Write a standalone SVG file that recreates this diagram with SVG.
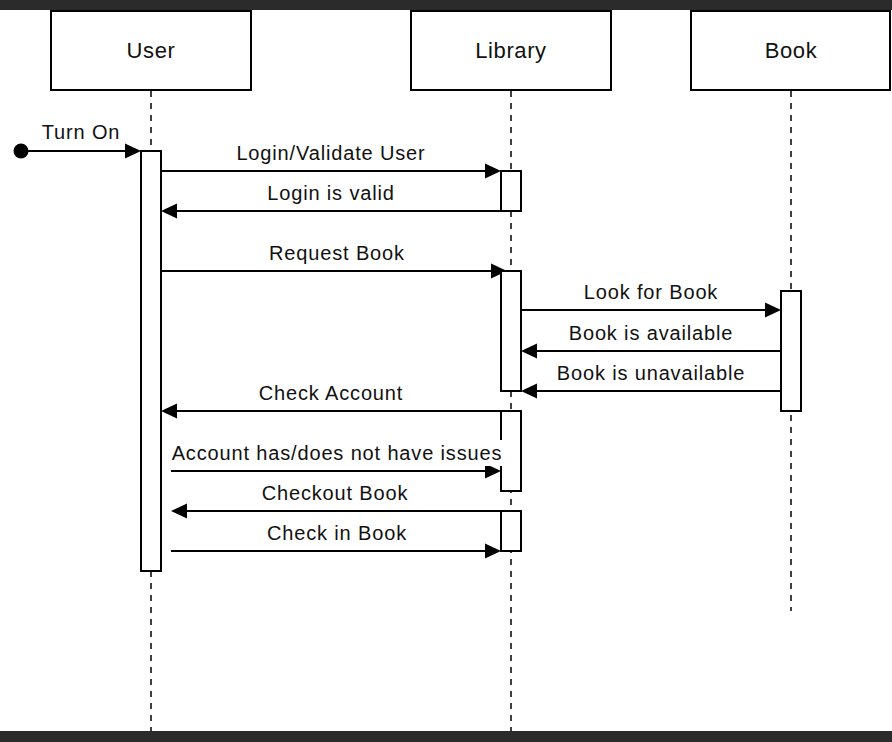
<svg xmlns="http://www.w3.org/2000/svg" width="892" height="742" viewBox="0 0 892 742">
<style>
.box{fill:#fff;stroke:#000;stroke-width:2}
.life{stroke:#111;stroke-width:1.6;stroke-dasharray:6 6;fill:none}
.act{fill:#fff;stroke:#000;stroke-width:2}
.msg{stroke:#000;stroke-width:2;fill:none;marker-end:url(#arr)}
.hd{font-family:"Liberation Sans",Arial,Helvetica,sans-serif;font-size:22px;letter-spacing:0.6px;text-anchor:middle;fill:#111}
.lb{font-family:"Liberation Sans",Arial,Helvetica,sans-serif;font-size:20px;letter-spacing:0.85px;text-anchor:middle;fill:#111}
</style>
<defs>
<marker id="arr" markerUnits="userSpaceOnUse" markerWidth="17" markerHeight="16" refX="8" refY="7.5" orient="auto" overflow="visible">
<path d="M0,0 L16,7.5 L0,15 Z" fill="#000"/>
</marker>
</defs>
<rect x="0" y="0" width="892" height="742" fill="#fff"/>
<rect x="0" y="0" width="892" height="10" fill="#2b2b2b"/>
<rect x="0" y="731" width="892" height="11" fill="#2b2b2b"/>

<g id="lifeline-user">
<line class="life" x1="151" y1="91" x2="151" y2="731"/>
<rect class="box" x="51" y="11" width="200" height="79"/>
<text class="hd" x="151" y="58">User</text>
</g>
<g id="lifeline-library">
<line class="life" x1="511" y1="91" x2="511" y2="731"/>
<rect class="box" x="411" y="11" width="200" height="79"/>
<text class="hd" x="511" y="58">Library</text>
</g>
<g id="lifeline-book">
<line class="life" x1="791" y1="91" x2="791" y2="611"/>
<rect class="box" x="691" y="11" width="199" height="79"/>
<text class="hd" x="791" y="58">Book</text>
</g>

<g id="connectors">
<circle cx="21" cy="151" r="7.5" fill="#000"/>
<line class="msg" x1="21" y1="151" x2="133" y2="151"/>
<line class="msg" x1="161" y1="171" x2="493" y2="171"/>
<line class="msg" x1="501" y1="211" x2="169" y2="211"/>
<line class="msg" x1="161" y1="271" x2="499" y2="271"/>
<line class="msg" x1="521" y1="310" x2="773" y2="310"/>
<line class="msg" x1="781" y1="351" x2="529" y2="351"/>
<line class="msg" x1="781" y1="391" x2="529" y2="391"/>
<line class="msg" x1="521" y1="411" x2="169" y2="411"/>
<line class="msg" x1="171" y1="471" x2="493" y2="471"/>
<line class="msg" x1="501" y1="511" x2="179" y2="511"/>
<line class="msg" x1="171" y1="551" x2="493" y2="551"/>
</g>

<g id="act-user"><rect class="act" x="141" y="151" width="20" height="420"/></g>
<g id="act-library-1"><rect class="act" x="501" y="171" width="20" height="40"/></g>
<g id="act-library-2"><rect class="act" x="501" y="271" width="20" height="120"/></g>
<g id="act-library-3"><rect class="act" x="501" y="411" width="20" height="80"/></g>
<g id="act-library-4"><rect class="act" x="501" y="511" width="20" height="40"/></g>
<g id="act-book"><rect class="act" x="781" y="291" width="20" height="120"/></g>

<g id="labels">
<text class="lb" x="81" y="139">Turn On</text>
<text class="lb" x="331" y="159.5">Login/Validate User</text>
<text class="lb" x="331" y="199.5">Login is valid</text>
<text class="lb" x="337" y="259.5">Request Book</text>
<text class="lb" x="651" y="298.5">Look for Book</text>
<text class="lb" x="651" y="339.5">Book is available</text>
<text class="lb" x="651" y="379.5">Book is unavailable</text>
<text class="lb" x="331" y="399.5">Check Account</text>
<rect x="168" y="440" width="337" height="26" fill="#fff"/>
<text class="lb" x="337" y="459.5">Account has/does not have issues</text>
<text class="lb" x="335" y="499.5">Checkout Book</text>
<text class="lb" x="337" y="539.5">Check in Book</text>
</g>
</svg>
